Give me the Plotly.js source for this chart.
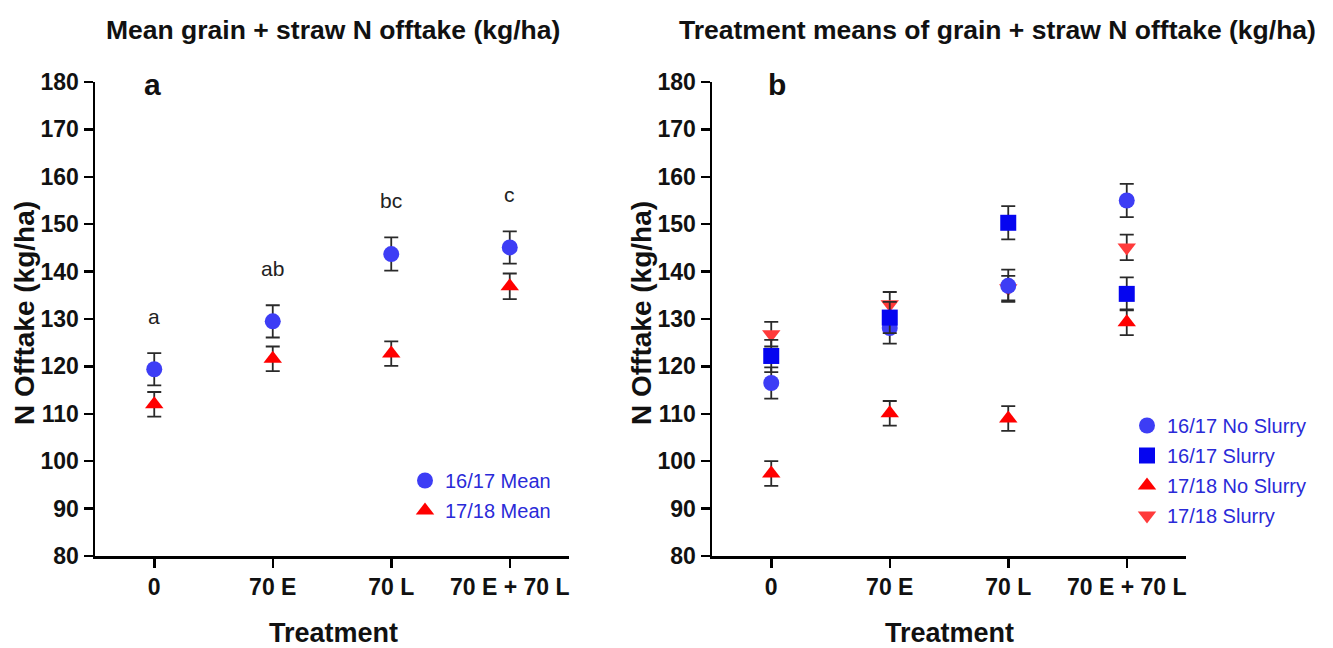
<!DOCTYPE html>
<html>
<head>
<meta charset="utf-8">
<script src="https://cdn.plot.ly/plotly-3.0.1.min.js"></script>
<style>html,body{margin:0;padding:0;background:#fff;}#chart{width:1333px;height:648px;}</style>
</head>
<body>
<div id="chart"></div>
<script>
// ---------- data ----------
const treatments = ['0', '70 E', '70 L', '70 E + 70 L'];

// Panel a: means
const mean1617 = [119.4, 129.5, 143.7, 145.1];
const err1617 = [3.4, 3.4, 3.5, 3.4];
const mean1718 = [112.0, 121.6, 122.7, 136.9];
const err1718 = [2.6, 2.6, 2.6, 2.7];
const sigLetters = ['a', 'ab', 'bc', 'c'];

// Panel b: treatment means
const noSlurry1617 = [116.5, 128.1, 137.0, 155.0];
const noSlurry1617Err = [3.3, 3.3, 3.4, 3.5];
const slurry1617 = [122.2, 130.3, 150.3, 135.3];
const slurry1617Err = [3.4, 3.3, 3.5, 3.5];
const noSlurry1718 = [97.4, 110.1, 109.0, 129.3];
const noSlurry1718Err = [2.6, 2.6, 2.6, 2.7];
const slurry1718 = [126.8, 133.1, 136.5, 145.1];
const slurry1718Err = [2.6, 2.6, 2.6, 2.7];

// ---------- styling ----------
const W = 1333, H = 648;
const sans = 'Liberation Sans, Arial, sans-serif';
const ebar = (arr) => ({type: 'data', array: arr, visible: true, color: '#2a2a2a', thickness: 1.8, width: 7});
const xIdx = treatments.map((_, i) => i);

function pt(name, x, y, err, xa, ya, sym, color, legend, rank) {
  return {
    type: 'scatter', mode: 'markers', name: name,
    x: x, y: y, xaxis: xa, yaxis: ya,
    error_y: ebar(err),
    marker: {symbol: sym, size: 16, color: color, line: {width: 0}},
    legend: legend, legendgroup: name, legendrank: rank,
    hoverinfo: 'x+y'
  };
}

const traces = [
  pt('16/17 Mean', xIdx, mean1617, err1617, 'x', 'y', 'circle', '#3d3df5', 'legend', 1),
  pt('17/18 Mean', xIdx, mean1718, err1718, 'x', 'y', 'triangle-up', '#ff0000', 'legend', 2),
  pt('17/18 Slurry', xIdx, slurry1718, slurry1718Err, 'x2', 'y2', 'triangle-down', '#ff3a3a', 'legend2', 4),
  pt('17/18 No Slurry', xIdx, noSlurry1718, noSlurry1718Err, 'x2', 'y2', 'triangle-up', '#ff0000', 'legend2', 3),
  pt('16/17 No Slurry', xIdx, noSlurry1617, noSlurry1617Err, 'x2', 'y2', 'circle', '#3d3df5', 'legend2', 1),
  pt('16/17 Slurry', xIdx, slurry1617, slurry1617Err, 'x2', 'y2', 'square', '#0505f0', 'legend2', 2)
];

const tickFont = {family: sans, size: 23, weight: 'bold', color: '#111'};
function xAxis(dom) {
  return {
    domain: dom, range: [-0.5, 3.5], tickmode: 'array', tickvals: xIdx, ticktext: treatments,
    showline: true, linecolor: '#000', linewidth: 2.5, ticks: 'outside', ticklen: 9, tickwidth: 2.5,
    tickcolor: '#000', showgrid: false, zeroline: false, tickfont: tickFont, fixedrange: true
  };
}
function yAxis(anchor) {
  return {
    anchor: anchor, domain: [92 / H, 1 - 82 / H], range: [80, 180], dtick: 10, tick0: 80,
    showline: true, linecolor: '#000', linewidth: 2.5, ticks: 'outside', ticklen: 9, tickwidth: 2.5,
    tickcolor: '#000', showgrid: false, zeroline: false, tickfont: tickFont, fixedrange: true
  };
}

const px = (v) => v / W;
const py = (v) => 1 - v / H;
function label(text, x, y, size, opts) {
  return Object.assign({text: text, x: px(x), y: py(y), xref: 'paper', yref: 'paper', showarrow: false,
    xanchor: 'center', yanchor: 'middle', font: {family: sans, size: size, weight: 'bold', color: '#111'}}, opts || {});
}

const annotations = [
  label('Mean grain + straw N offtake (kg/ha)', 333, 30, 26.5),
  label('Treatment means of grain + straw N offtake (kg/ha)', 997, 30, 26.5),
  label('a', 152, 84, 30),
  label('b', 777, 84, 30),
  label('N Offtake (kg/ha)', 24, 313, 28, {textangle: -90}),
  label('N Offtake (kg/ha)', 641, 313, 28, {textangle: -90}),
  label('Treatment', 333, 633, 27),
  label('Treatment', 949, 633, 27)
];
sigLetters.forEach((t, i) => {
  annotations.push({text: t, x: i, y: mean1617[i] + err1617[i] + 7.7, xref: 'x', yref: 'y', showarrow: false,
    xanchor: 'center', yanchor: 'middle', font: {family: sans, size: 21, color: '#222'}});
});

const legFont = {family: sans, size: 20, color: '#2a2ad8'};
const layout = {
  width: W, height: H, margin: {l: 0, r: 0, t: 0, b: 0},
  paper_bgcolor: '#fff', plot_bgcolor: '#fff',
  xaxis: xAxis([px(95), px(569)]), yaxis: yAxis('x'),
  xaxis2: xAxis([px(712), px(1186)]), yaxis2: yAxis('x2'),
  showlegend: true,
  legend: {x: px(405), y: py(461), xanchor: 'left', yanchor: 'top', bgcolor: 'rgba(0,0,0,0)',
    font: legFont, tracegroupgap: 1},
  legend2: {x: px(1127), y: py(406), xanchor: 'left', yanchor: 'top', bgcolor: 'rgba(0,0,0,0)',
    font: legFont, tracegroupgap: 1},
  annotations: annotations
};

Plotly.newPlot('chart', traces, layout, {displayModeBar: false, staticPlot: true});
</script>
</body>
</html>
